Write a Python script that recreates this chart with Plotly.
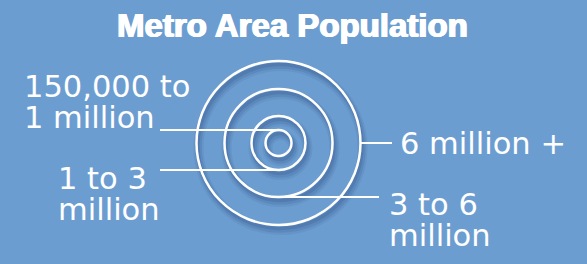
import plotly.graph_objects as go

# ---- data ----
categories = ["150,000 to 1 million", "1 to 3 million", "3 to 6 million", "6 million +"]
ring_radius = [13, 27, 54, 82]          # symbol ring radius (px) per category
label_lines = [["150,000 to", "1 million"], ["1 to 3", "million"], ["3 to 6", "million"], ["6 million +"]]
title_text = "Metro Area Population"

# ---- layout constants ----
W, H = 587, 264
BG = "#6c9dd0"
CX, CY = 278.5, 143
label_pos = [(22, 86.5, 31), (56, 178, 31.5), (387, 204, 31.5), (398, 143.5, 0)]  # x, first line center y, line gap
leader_end_x = [160, 160, 379, 392]

fig = go.Figure()
shapes = []
# shadows
for r in ring_radius:
    for w, a, dx, dy in [(10, 0.08, 2, 5), (6.5, 0.11, 2, 4.5), (3.5, 0.15, 1.5, 3.5)]:
        shapes.append(dict(type="circle", xref="x", yref="y",
                           x0=CX - r + dx, x1=CX + r + dx, y0=CY - r + dy, y1=CY + r + dy,
                           line=dict(color=f"rgba(25,55,105,{a})", width=w)))
# rings
for r in ring_radius:
    shapes.append(dict(type="circle", xref="x", yref="y",
                       x0=CX - r, x1=CX + r, y0=CY - r, y1=CY + r,
                       line=dict(color="white", width=2.5)))
# leader lines
for i, r in enumerate(ring_radius):
    if i == 0:
        x0, y0 = CX, CY - r
    elif i == 3:
        x0, y0 = CX + r, CY
    else:
        x0, y0 = CX, CY + r
    shapes.append(dict(type="line", xref="x", yref="y", x0=x0, y0=y0,
                       x1=leader_end_x[i], y1=y0, line=dict(color="white", width=2)))

annotations = [dict(text=title_text, x=292.5, y=25, xref="x", yref="y", showarrow=False,
                    xanchor="center", yanchor="middle",
                    font=dict(family="Liberation Sans", size=33, color="white", weight="bold",
                              shadow="0.8px 0 0 white, -0.8px 0 0 white, 0 0.4px 0 white"))]
for lines, (lx, ly, gap) in zip(label_lines, label_pos):
    for k, t in enumerate(lines):
        annotations.append(dict(text=t, x=lx, y=ly + k * gap, xref="x", yref="y", showarrow=False,
                                xanchor="left", yanchor="middle",
                                font=dict(family="DejaVu Sans", size=30.5, color="white")))

fig.update_layout(
    width=W, height=H, margin=dict(l=0, r=0, t=0, b=0),
    paper_bgcolor=BG, plot_bgcolor=BG,
    xaxis=dict(range=[0, W], visible=False, fixedrange=True),
    yaxis=dict(range=[H, 0], visible=False, fixedrange=True),
    shapes=shapes, annotations=annotations, showlegend=False,
)
fig.write_html("out.html", config={"displayModeBar": False},
               post_script="document.body.style.margin='0';document.body.style.overflow='hidden';")
